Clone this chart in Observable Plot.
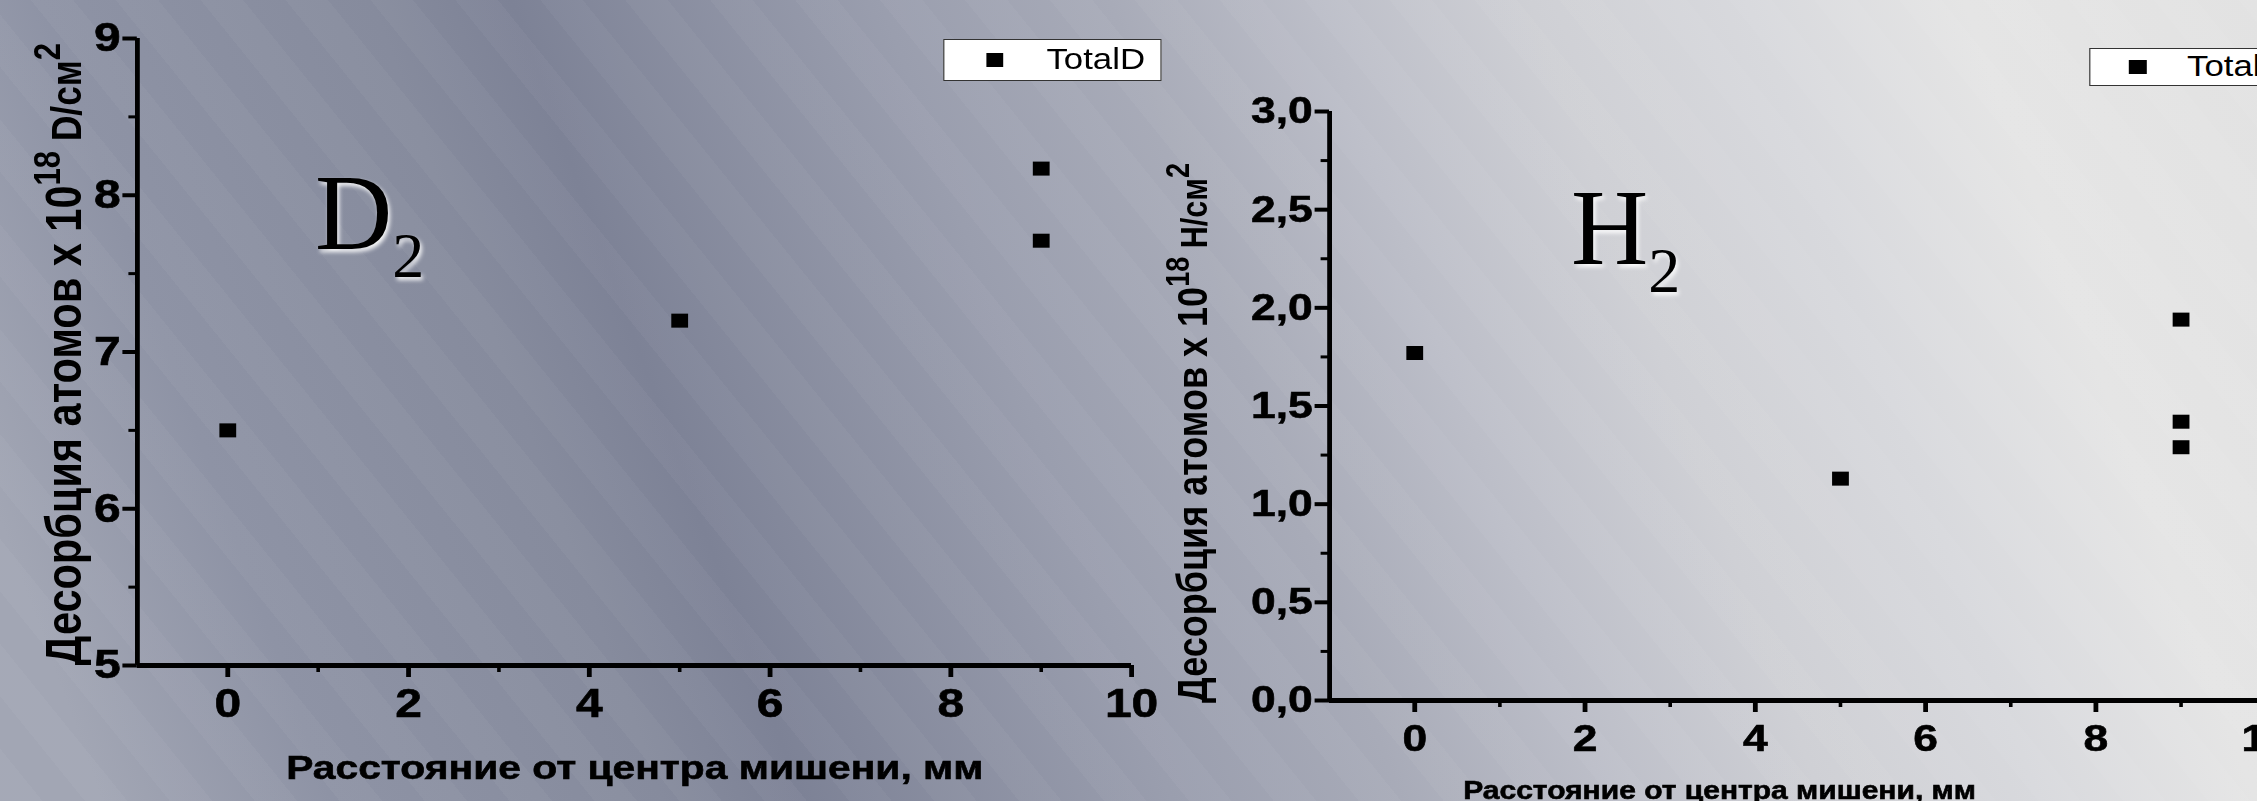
<!DOCTYPE html>
<html><head><meta charset="utf-8">
<script src="https://cdn.jsdelivr.net/npm/d3@7"></script>
<script src="https://cdn.jsdelivr.net/npm/@observablehq/plot@0.6"></script>
<style>
html,body{margin:0;padding:0;width:2257px;height:801px;overflow:hidden;}
body{position:relative;background:
 repeating-linear-gradient(51deg, rgba(255,255,255,0.035) 0 33px, rgba(255,255,255,0) 33px 66px),
 linear-gradient(70deg, #a2a6b4 4%, #8e93a5 13%, #868b9d 26%, #7d8296 31.5%, #9a9eae 46%, #a8abb8 55%, #bcbec8 63%, #cfd0d5 71.5%, #d8d9dd 80%, #e5e5e5 88.5%, #e2e2e2 100%);}
#stage{position:absolute;left:0;top:0;width:1881px;height:801px;transform:scaleX(1.2);transform-origin:0 0;}
#stage svg g[aria-label$="tick label"] text, #stage svg text.xt{stroke:#000;stroke-width:0.6px;}
.chart{position:absolute;top:0;}
.legend{position:absolute;background:#fff;border:1.5px solid #333;box-sizing:border-box;font-family:"Liberation Sans",Arial,sans-serif;font-size:29px;color:#000;}
.legend .sq{position:absolute;background:#000;}
.legend .lbl{position:absolute;line-height:1;white-space:nowrap;}
.big{position:absolute;font-family:"Liberation Serif","Times New Roman",serif;font-size:107px;line-height:1;color:#000;text-shadow:2px 3px 4px rgba(255,255,255,0.95);white-space:nowrap;}
.big span{font-size:64px;position:relative;top:28px;}
</style></head>
<body>
<div id="stage">
  <div id="left" class="chart" style="left:0px"></div>
  <div id="right" class="chart" style="left:950px"></div>
  <div class="legend" style="left:786px;top:39px;width:181.5px;height:42px;">
    <div class="sq" style="left:34.5px;top:12.5px;width:14px;height:14px;"></div>
    <div class="lbl" id="legL" style="left:85px;top:5px;"></div>
  </div>
  <div class="legend" style="left:1741px;top:48px;width:200px;height:38px;">
    <div class="sq" style="left:31.5px;top:11px;width:15px;height:14px;"></div>
    <div class="lbl" id="legR" style="left:80.5px;top:3.3px;"></div>
  </div>
</div>
<div class="big" style="left:315px;top:160px;">D<span>2</span></div>
<div class="big" style="left:1571px;top:175px;">H<span>2</span></div>
<script>
// ---- data ----
const xTicks = [0, 2, 4, 6, 8, 10];
const xMinor = [1, 3, 5, 7, 9];
const distD = [0, 5, 9, 9];
const desD = [6.5, 7.2, 8.17, 7.71];
const dTicks = [5, 6, 7, 8, 9];
const dMinor = [5.5, 6.5, 7.5, 8.5];
const distH = [0, 5, 9, 9, 9];
const desH = [1.77, 1.13, 1.94, 1.42, 1.29];
const hTicks = [0, 0.5, 1, 1.5, 2, 2.5, 3];
const hMinor = [0.25, 0.75, 1.25, 1.75, 2.25, 2.75];
const xTitle = "Расстояние от центра мишени, мм";
const yTitleMain = "Десорбция атомов x 10";
const yTitleExp = "18";
const yUnitD = " D/см";
const yUnitH = " H/см";
const yUnitExp = "2";
const legendD = "TotalD";
const legendH = "TotalH";

document.getElementById("legL").textContent = legendD;
document.getElementById("legR").textContent = legendH;

const font = '"Liberation Sans", Arial, Helvetica, sans-serif';

function chart(o) {
  const pts = o.xs.map((x, i) => ({x, y: o.ys[i]}));
  return Plot.plot({
    width: o.width, height: 801,
    marginLeft: o.ml, marginRight: o.mr, marginTop: o.mt, marginBottom: o.mb,
    style: {background: "transparent", color: "#000", fontFamily: font, fontSize: o.fs + "px", fontWeight: "bold", maxWidth: "none", overflow: "visible"},
    x: {domain: [-1, 10]},
    y: {domain: o.ydom},
    marks: [
      Plot.axisX({ticks: xTicks, tickSize: 12, tickPadding: o.xpad, strokeWidth: 4, label: null}),
      Plot.axisX({ticks: xMinor, tickSize: 7, strokeWidth: 3, tickFormat: () => "", label: null}),
      Plot.axisY({ticks: o.yTicks, tickSize: 12, tickPadding: o.ypad, strokeWidth: 4, tickFormat: o.fmt, label: null}),
      Plot.axisY({ticks: o.yMinor, tickSize: 7, strokeWidth: 3, tickFormat: () => "", label: null}),
      Plot.ruleY([o.ydom[0]], {stroke: "#000", strokeWidth: 5}),
      Plot.ruleX([-1], {stroke: "#000", strokeWidth: 4}),
      Plot.dot(pts, {x: "x", y: "y", symbol: "square", r: 7.9, fill: "#000", stroke: "none"})
    ]
  });
}

function yTitle(svg, x, y, fs, unit) {
  const t = svg.append("text")
    .attr("transform", `translate(${x},${y}) rotate(-90)`)
    .attr("text-anchor", "middle").attr("dy", "0.35em")
    .style("font-size", fs + "px");
  t.append("tspan").text(yTitleMain);
  t.append("tspan").style("font-size", (fs * 0.75) + "px").attr("dy", -fs * 0.42).text(yTitleExp);
  t.append("tspan").style("font-size", (fs * 0.85) + "px").attr("dy", fs * 0.42).text(unit);
  t.append("tspan").style("font-size", (fs * 0.75) + "px").attr("dy", -fs * 0.42).text(yUnitExp);
}

const L = chart({xs: distD, ys: desD, width: 960, ml: 114, mr: 17.5, mt: 38, mb: 136, fs: 40,
  ydom: [5, 9], yTicks: dTicks, yMinor: dMinor, fmt: d => String(d), xpad: 11, ypad: 2});
document.getElementById("left").appendChild(L);
const sL = d3.select(L);
sL.append("text").attr("class", "xt").attr("x", 529).attr("y", 767).attr("dy", "0.35em").attr("text-anchor", "middle")
  .style("font-size", "34px").text(xTitle);
yTitle(sL, 53, 354, 41.5, yUnitD);

const R = chart({xs: distH, ys: desH, width: 950, ml: 157.5, mr: 12, mt: 111, mb: 101, fs: 37,
  ydom: [0, 3], yTicks: hTicks, yMinor: hMinor, fmt: d => d.toFixed(1).replace(".", ","), xpad: 12, ypad: 2});
document.getElementById("right").appendChild(R);
const sR = d3.select(R);
sR.append("text").attr("class", "xt").attr("x", 483).attr("y", 790).attr("dy", "0.35em").attr("text-anchor", "middle")
  .style("font-size", "25px").text(xTitle);
yTitle(sR, 43, 433, 36, yUnitH);
</script>
</body></html>
